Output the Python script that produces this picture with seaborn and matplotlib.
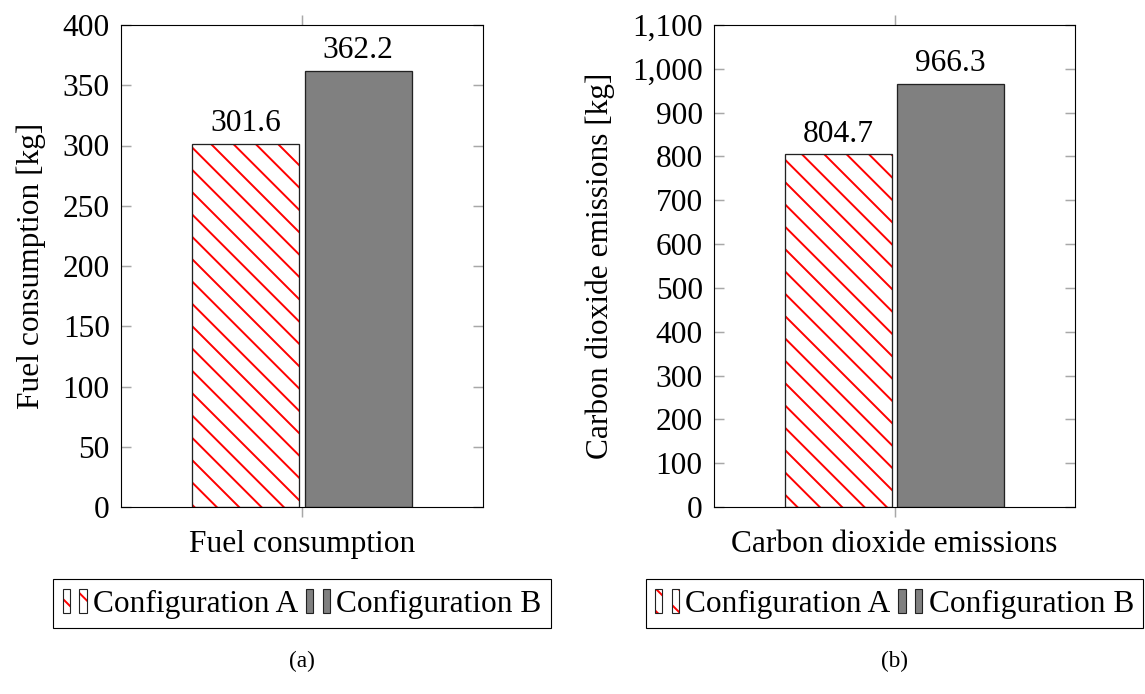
import matplotlib
matplotlib.use("Agg")
import matplotlib.pyplot as plt
import matplotlib.patches as mpatches
from matplotlib.legend_handler import HandlerTuple
from matplotlib.ticker import FuncFormatter, MultipleLocator
import seaborn as sns
import pandas as pd

# ---- data ----
configs = ["Configuration A", "Configuration B"]
fuel_values = [301.6, 362.2]
co2_values = [804.7, 966.3]
fuel_category = "Fuel consumption"
co2_category = "Carbon dioxide emissions"
fuel_ylabel = "Fuel consumption [kg]"
co2_ylabel = "Carbon dioxide emissions [kg]"
captions = ["(a)", "(b)"]

DPI = 134
W, H = 1145, 694
sns.set_theme(style="white")
plt.rcParams["font.family"] = ["Liberation Serif", "DejaVu Serif"]
plt.rcParams["hatch.linewidth"] = 1.05
plt.rcParams["text.color"] = "black"
plt.rcParams["axes.labelcolor"] = "black"

FS = 16.9
TICKGRAY = "#a8a8a8"

fig = plt.figure(figsize=(W / DPI, H / DPI), dpi=DPI)

def px_axes(x0, x1, y0, y1):
    return fig.add_axes([x0 / W, 1 - y1 / H, (x1 - x0) / W, (y1 - y0) / H])

ax1 = px_axes(121, 483, 25, 507)
ax2 = px_axes(714, 1075, 25, 507)

panels = [
    (ax1, fuel_category, fuel_values, fuel_ylabel, 400, 50, False),
    (ax2, co2_category, co2_values, co2_ylabel, 1100, 100, True),
]

RED = matplotlib.colors.to_rgba("red")

for i, (ax, cat, vals, ylab, ymax, step, comma) in enumerate(panels):
    df = pd.DataFrame({"metric": [cat] * len(configs), "config": configs, "value": vals})
    sns.barplot(data=df, x="metric", y="value", hue="config", hue_order=configs,
                palette=["white", "#808080"], gap=0.05, ax=ax, legend=False,
                edgecolor="#222222", linewidth=0.7, saturation=1)
    contA = ax.containers[0]
    for p in contA.patches:
        p.set_hatch("\\\\")
        p._hatch_color = RED
    for c in ax.containers:
        ax.bar_label(c, fmt="%.1f", padding=3, fontsize=FS, color="black")
    ax.set_ylim(0, ymax)
    ax.set_xlim(-0.643, 0.643)
    ax.yaxis.set_major_locator(MultipleLocator(step))
    if comma:
        ax.yaxis.set_major_formatter(FuncFormatter(lambda v, pos: f"{v:,.0f}"))
    ax.set_xlabel("")
    ax.set_ylabel(ylab, fontsize=FS, labelpad=9)
    ax.tick_params(axis="y", direction="in", left=True, right=True, length=5.5,
                   width=0.8, color=TICKGRAY, labelsize=FS, labelcolor="black", pad=6)
    ax.tick_params(axis="x", direction="out", bottom=True, top=True, length=5.5,
                   width=0.8, color=TICKGRAY, labelsize=FS, labelcolor="black", pad=7)
    for s in ax.spines.values():
        s.set_visible(True)
        s.set_color("black")
        s.set_linewidth(0.6)

    # legend
    hA = mpatches.Patch(facecolor="white", edgecolor="#222222", hatch="\\\\", linewidth=0.6)
    hA._hatch_color = RED
    hB = mpatches.Patch(facecolor="#808080", edgecolor="#222222", linewidth=0.6)
    leg = ax.legend([(hA, hA), (hB, hB)], configs, ncol=2,
                    handler_map={tuple: HandlerTuple(ndivide=None, pad=0.3)},
                    loc="upper center", bbox_to_anchor=(0.5, -0.15),
                    fontsize=FS, frameon=True, fancybox=False, edgecolor="black",
                    framealpha=1, handlelength=0.76, handleheight=0.8,
                    handletextpad=0.2, columnspacing=0.25, borderpad=0.3,
                    borderaxespad=0)
    leg.get_frame().set_linewidth(0.6)

    fig.text((ax.get_position().x0 + ax.get_position().x1) / 2, 1 - 661 / H,
             captions[i], ha="center", va="center", fontsize=12.5)

fig.savefig("out.png", dpi=DPI)
